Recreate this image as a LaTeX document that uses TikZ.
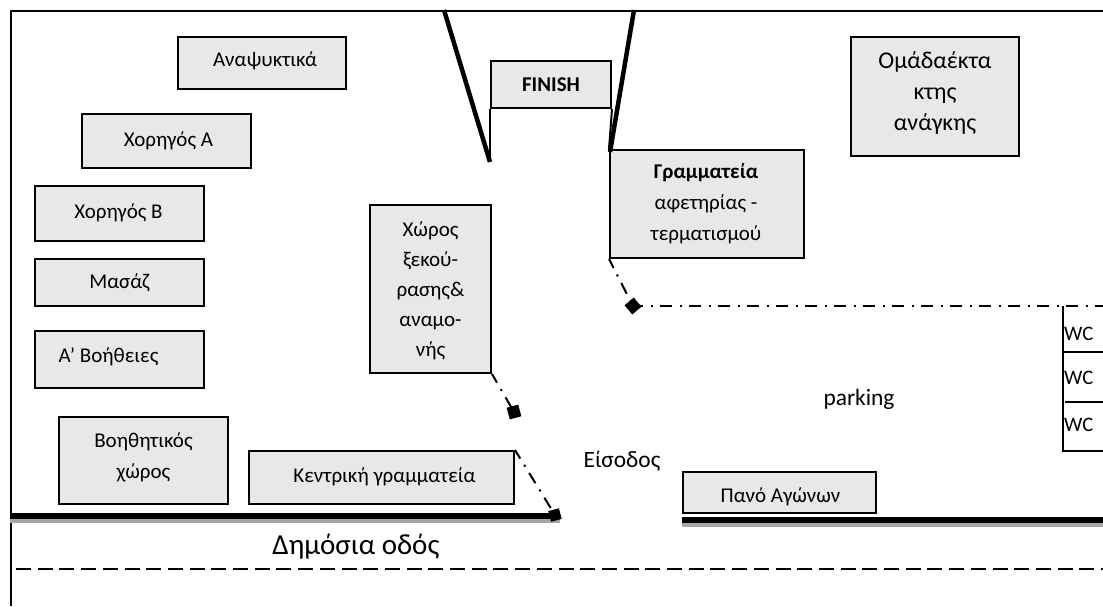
\documentclass[tikz,border=0pt]{standalone}
\usepackage{fontspec}
\setmainfont{Carlito}
\usetikzlibrary{calc}
\definecolor{boxgray}{HTML}{E8E8E8}
\tikzset{
 place/.style={draw=black,line width=2pt,fill=boxgray,inner sep=0pt,anchor=north west},
 placetext/.style={align=center,font=\fontsize{21}{31}\selectfont,inner sep=0pt},
 largeplacetext/.style={font=\fontsize{24}{31}\selectfont},
 tightplacetext/.style={font=\fontsize{21}{30}\selectfont},
 wall/.style={line width=4.5pt},
 thin wall/.style={line width=2pt},
 road/.style={line width=5.8pt},
 roadshadow/.style={line width=4pt,draw=black!35},
 tape/.style={line width=2pt,dash pattern=on 12pt off 7.5pt on 2pt off 7.5pt,dash phase=2pt},
 post/.style={fill=black,draw=none,inner sep=0pt},
 freetext/.style={font=\fontsize{20.6}{25}\selectfont,inner sep=0pt},
 bigtext/.style={font=\fontsize{23.4}{28}\selectfont,inner sep=0pt},
}
\newcommand{\placebox}[8][]{% options, name, x0,y0,x1,y1,dx,dy, then the text
 \pgfmathsetlengthmacro{\bw}{#5-#3}\pgfmathsetlengthmacro{\bh}{#6-#4}
 \def\placename{#2}\def\placex{#3}\def\placey{#4}\def\placedx{#7}\def\placedy{#8}\def\placeopts{#1}%
 \placeboxfinish}
\newcommand{\placeboxfinish}[1]{%
 \edef\placelabelopts{placetext,\placeopts,xshift=\placedx pt,yshift=\placedy pt}%
 \node[place,minimum width=\bw,minimum height=\bh,
   label/.expanded={[\placelabelopts]center:{\unexpanded{#1}}}] (\placename) at (\placex,\placey) {};}
\begin{document}
\begin{tikzpicture}[x=1pt,y=-1pt]
\useasboundingbox (0,0) rectangle (1103,606);
\coordinate (tl) at (11,10.5); \coordinate (tr) at (1103,10.5); \coordinate (bl) at (11,606);
\draw[line width=2pt] (bl) -- (tl) -- (tr);
\placebox{refresh}{177}{36}{345}{88}{3}{2}{Αναψυκτικά}
\placebox{sponsorA}{81}{113}{250}{167}{2}{0}{Χορηγός Α}
\placebox{sponsorB}{34}{185}{203}{240}{-1}{1}{Χορηγός Β}
\placebox{massage}{34}{258}{203}{305}{0}{0}{Μασάζ}
\placebox{firstaid}{34}{330}{203}{387}{-11}{3}{Α’ Βοήθειες}
\placebox{aux}{58}{416}{227}{503}{0}{3}{Βοηθητικός\\χώρος}
\placebox{central}{248}{450}{513}{503}{3}{1}{Κεντρική γραμματεία}
\placebox[tightplacetext]{rest}{369}{204}{490}{372}{0}{-2}{Χώρος\\ξεκού-\\ρασης\&\\αναμο-\\νής}
\placebox{finish}{490}{60}{610}{107}{0}{0}{\bfseries FINISH}
\placebox{secretariat}{609}{149}{803}{257}{-1}{0}{\textbf{Γραμματεία}\\αφετηρίας -\\τερματισμού}
\placebox[largeplacetext]{team}{850}{36}{1018}{155}{0}{4}{Ομάδαέκτα\\κτης\\ανάγκης}
\placebox{banner}{682}{471}{875}{512}{1}{-4}{Πανό Αγώνων}
% finish gate
\coordinate (gl) at (444,10); \coordinate (gr) at (634,10);
\coordinate (glb) at (490,162); \coordinate (grb) at (610,152);
\draw[thin wall] (finish.south west) -- (glb);
\draw[thin wall] (finish.south east) -- (secretariat.north west);
\draw[wall] (gl) -- (glb);
\draw[wall] (gr) -- (grb);
% road
\coordinate (r1a) at (10,516.2); \coordinate (r1b) at (560,516.2);
\coordinate (r2a) at (682,519.6); \coordinate (r2b) at (1103,519.6);
\draw[roadshadow] ($(r1a)+(0,4.5)$) -- ($(r1b)+(0,4.5)$);
\draw[roadshadow] ($(r2a)+(0,5)$) -- ($(r2b)+(0,5)$);
\draw[road] (r1a) -- (r1b);
\draw[road] (r2a) -- (r2b);
\coordinate (d1) at (16,569); \coordinate (d2) at (1103,569);
\draw[line width=1.5pt,dash pattern=on 15pt off 6.7pt] (d1) -- (d2);
\node[font=\fontsize{29}{34}\selectfont,inner sep=0pt] (road) at (356,547) {Δημόσια οδός};
% fence tapes
\node[post,rotate=40,minimum size=12pt] (p1) at (633,306) {};
\node[post,rotate=15,minimum size=12pt] (p2) at (514,412) {};
\node[post,rotate=15,minimum size=11pt] (p3) at (555,515) {};
\coordinate (wcnw) at (1103,306);
\draw[tape] (secretariat.south west) -- (p1.center);
\draw[tape] (p1.center) -- (wcnw);
\draw[tape] (rest.south east) -- (p2.center);
\draw[tape] (central.north east) -- (p3.center);
% WC block
\coordinate (w1) at (1063,306); \coordinate (w2) at (1063,451); \coordinate (w3) at (1103,451);
\coordinate (wa) at (1063,352); \coordinate (wb) at (1103,352);
\coordinate (wc) at (1065,402); \coordinate (wd) at (1103,402);
\draw[line width=2pt] (w1) -- (w2) -- (w3);
\draw[line width=1.6pt] (wa) -- (wb);
\draw[line width=1.6pt] (wc) -- (wd);
\node[freetext,anchor=west] (wc1) at (1064,334) {WC};
\node[freetext,anchor=west] (wc2) at (1064,378) {WC};
\node[freetext,anchor=west] (wc3) at (1064,425) {WC};
\node[bigtext] (parking) at (859,399) {parking};
\node[bigtext] (entrance) at (622,461) {Είσοδος};
\end{tikzpicture}
\end{document}
